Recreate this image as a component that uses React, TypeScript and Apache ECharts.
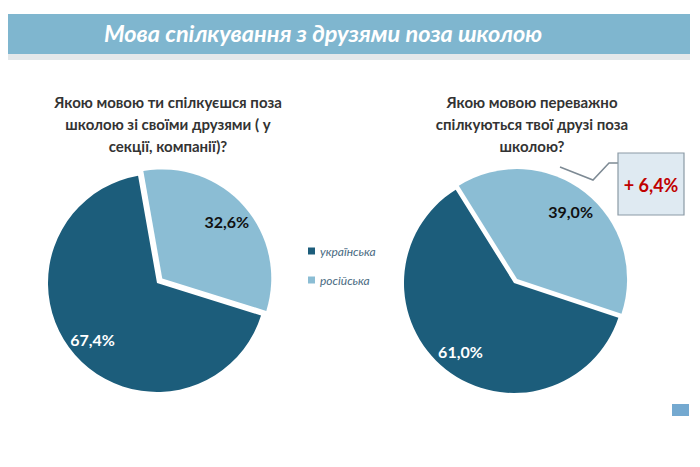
import React, { useEffect, useRef } from "react";
import * as echarts from "echarts";

const categories = ["українська", "російська"];
const ownFriendsValues = [67.4, 32.6];
const othersFriendsValues = [61.0, 39.0];
const mainTitle = "Мова спілкування з друзями поза школою";
const leftQuestion = "Якою мовою ти спілкуєшся поза\nшколою зі своїми друзями ( у\nсекції, компанії)?";
const rightQuestion = "Якою мовою переважно\nспілкуються твої друзі поза\nшколою?";
const changeLabel = "+ 6,4%";

const DARK = "#1c5d7b";
const LIGHT = "#8bbdd4";

const fmt = (v: number) => v.toFixed(1).replace(".", ",") + "%";

function pieData(values: number[], withLabels: boolean) {
  // light slice (російська) first so it starts at startAngle clockwise
  const order = [1, 0];
  return order.map((i) => ({
    name: categories[i],
    value: values[i],
    selected: i === 1,
    itemStyle: {
      color: withLabels ? "rgba(0,0,0,0)" : i === 0 ? DARK : LIGHT,
    },
    label: withLabels
      ? {
          show: true,
          color: i === 0 ? "#ffffff" : "#111111",
          textBorderWidth: 0,
        }
      : { show: false },
  }));
}

function makePies(values: number[], center: number[], radius: number, startAngle: number, offset: number) {
  return [
    {
      type: "pie",
      center,
      radius: [0, radius],
      startAngle,
      clockwise: true,
      selectedMode: "single",
      selectedOffset: offset,
      data: pieData(values, false),
      label: { show: false },
      labelLine: { show: false },
      emphasis: { disabled: true },
      silent: true,
    },
    {
      type: "pie",
      center,
      radius: [radius * 0.52, radius],
      startAngle,
      clockwise: true,
      selectedMode: "single",
      selectedOffset: offset,
      data: pieData(values, true),
      legendHoverLink: false,
      label: {
        show: true,
        position: "inside",
        formatter: (p: any) => fmt(p.value),
        fontFamily: "Lato",
        fontWeight: "bold",
        fontSize: 16,
        textBorderWidth: 0,
      },
      labelLine: { show: false },
      emphasis: { disabled: true },
      silent: true,
      z: 3,
    },
  ];
}

const questionStyle = {
  fontFamily: "Lato",
  fontWeight: "bold",
  fontSize: 15,
  color: "#333333",
  lineHeight: 22,
  align: "center",
};

export default function App() {
  const ref = useRef<HTMLDivElement>(null);
  useEffect(() => {
    if (!ref.current) return;
    const chart = echarts.init(ref.current, null, { renderer: "svg" });
    chart.setOption({
      animation: false,
      backgroundColor: "#ffffff",
      color: [DARK, LIGHT],
      title: [
        {
          text: leftQuestion,
          left: 163,
          top: 86,
          textAlign: "center",
          textStyle: questionStyle,
        },
        {
          text: rightQuestion,
          left: 527,
          top: 86,
          textAlign: "center",
          textStyle: questionStyle,
        },
      ],
      legend: {
        data: categories,
        orient: "vertical",
        left: 303,
        top: 240,
        icon: "rect",
        itemWidth: 7,
        itemHeight: 7,
        itemGap: 17,
        selectedMode: false,
        textStyle: {
          fontFamily: "Lato",
          fontStyle: "italic",
          fontSize: 12,
          color: "#4a6b82",
        },
      },
      graphic: [
        {
          type: "rect",
          shape: { x: 8, y: 52, width: 682, height: 8 },
          style: { fill: "#e4e8ea" },
          silent: true,
        },
        {
          type: "rect",
          shape: { x: 8, y: 14, width: 682, height: 40 },
          style: { fill: "#7fb6cf" },
          silent: true,
        },
        {
          type: "text",
          x: 323,
          y: 33,
          style: {
            text: mainTitle,
            fill: "#ffffff",
            fontFamily: "Lato",
            fontStyle: "italic",
            fontWeight: "bold",
            fontSize: 23.5,
            align: "center",
            verticalAlign: "middle",
          },
          silent: true,
        },
        {
          type: "polyline",
          shape: { points: [[560, 167], [593, 180], [609, 163], [618, 163]] },
          style: { stroke: "#7d8a94", lineWidth: 1.5, fill: "none" },
          silent: true,
        },
        {
          type: "rect",
          shape: { x: 618, y: 153, width: 66, height: 62 },
          style: { fill: "#dfeaf2", stroke: "#8b9aa5", lineWidth: 1.2 },
          silent: true,
        },
        {
          type: "text",
          x: 651,
          y: 185,
          style: {
            text: changeLabel,
            fill: "#c00000",
            fontFamily: "Lato",
            fontWeight: "bold",
            fontSize: 18,
            align: "center",
            verticalAlign: "middle",
          },
          silent: true,
        },
        {
          type: "rect",
          shape: { x: 672, y: 404, width: 17, height: 12 },
          style: { fill: "#74a9d0" },
          silent: true,
        },
      ],
      series: [
        ...makePies(ownFriendsValues, [157, 283], 109, 100, 7),
        ...makePies(othersFriendsValues, [514, 283], 110, 122, 5),
      ],
    });
    return () => chart.dispose();
  }, []);
  return (
    <div
      ref={ref}
      style={{ position: "fixed", left: 0, top: 0, width: 700, height: 467 }}
    />
  );
}
